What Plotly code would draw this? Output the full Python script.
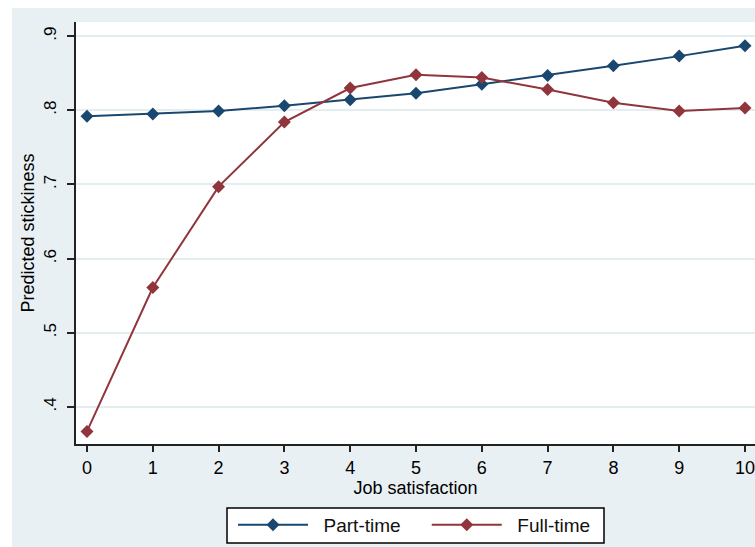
import plotly.graph_objects as go

job_satisfaction = [0, 1, 2, 3, 4, 5, 6, 7, 8, 9, 10]
part_time = [0.792, 0.795, 0.799, 0.806, 0.814, 0.823, 0.835, 0.847, 0.860, 0.873, 0.887]
full_time = [0.367, 0.561, 0.697, 0.784, 0.830, 0.848, 0.844, 0.828, 0.810, 0.799, 0.803]
y_tick_vals = [0.4, 0.5, 0.6, 0.7, 0.8, 0.9]
y_tick_text = [".4", ".5", ".6", ".7", ".8", ".9"]
series_names = ["Part-time", "Full-time"]

NAVY = "#1A476F"
MAROON = "#90353B"
BG = "#E9F0F3"
FONT = "Liberation Sans, Arial, sans-serif"
NB = "\u00a0"

W, H = 755, 547
ml, mr, mt, mb = 76, 0, 22, 103
pw = W - ml - mr
ph = H - mt - mb

fig = go.Figure()
fig.add_trace(go.Scatter(
    x=job_satisfaction, y=part_time, name=NB * 2 + series_names[0] + NB * 4, mode="lines+markers",
    line=dict(color=NAVY, width=2),
    marker=dict(symbol="diamond", size=10, color=NAVY),
))
fig.add_trace(go.Scatter(
    x=job_satisfaction, y=full_time, name=NB * 2 + series_names[1], mode="lines+markers",
    line=dict(color=MAROON, width=2),
    marker=dict(symbol="diamond", size=10, color=MAROON),
))

def px_x(p):
    return (p - ml) / pw

def px_y(p):
    return (H - mb - p) / ph

shapes = [
    dict(type="rect", xref="paper", yref="paper", x0=px_x(-5), x1=px_x(12),
         y0=px_y(H + 5), y1=px_y(-5), fillcolor="white", line=dict(width=0), layer="below"),
    dict(type="rect", xref="paper", yref="paper", x0=px_x(-5), x1=px_x(W + 5),
         y0=px_y(8), y1=px_y(-5), fillcolor="white", line=dict(width=0), layer="below"),
    dict(type="rect", xref="paper", yref="paper", x0=px_x(227), x1=px_x(604),
         y0=px_y(543), y1=px_y(508), fillcolor="white",
         line=dict(width=1.5, color="#000000"), layer="below"),
]

fig.update_layout(
    width=W, height=H,
    margin=dict(l=ml, r=mr, t=mt, b=mb, pad=0, autoexpand=False),
    paper_bgcolor=BG, plot_bgcolor="white",
    font=dict(family=FONT, color="#000000", size=18),
    shapes=shapes,
    showlegend=True,
    legend=dict(
        orientation="h", x=px_x(233), xanchor="left", y=px_y(506), yanchor="top",
        bgcolor="rgba(0,0,0,0)", borderwidth=0,
        font=dict(family=FONT, size=19, color="#111111"),
        itemwidth=70, tracegroupgap=0,
    ),
    xaxis=dict(
        range=[-0.167, 10.152], tickmode="array", tickvals=job_satisfaction,
        ticks="outside", ticklen=6, tickwidth=2, tickcolor="#222222",
        showline=True, linecolor="#222222", linewidth=2,
        showgrid=False, zeroline=False, automargin=False,
        ticklabeloverflow="allow",
        tickfont=dict(size=18),
        title=dict(text="Job satisfaction", font=dict(size=18), standoff=0),
    ),
    yaxis=dict(
        range=[0.350, 0.919], tickmode="array", tickvals=y_tick_vals, ticktext=y_tick_text,
        ticks="outside", ticklen=7, tickwidth=2, tickcolor="#222222", tickangle=-90,
        showline=True, linecolor="#222222", linewidth=2,
        showgrid=True, gridcolor="#E4EEF0", gridwidth=1.5, zeroline=False, automargin=False,
        ticklabelstandoff=4,
        tickfont=dict(size=17),
        title=dict(text="Predicted stickiness", font=dict(size=18), standoff=2),
    ),
)

fig.write_html(
    "out.html",
    config={"displayModeBar": False},
    post_script="document.body.style.margin='0';document.body.style.overflow='hidden';"
                "document.documentElement.style.overflow='hidden';",
)
